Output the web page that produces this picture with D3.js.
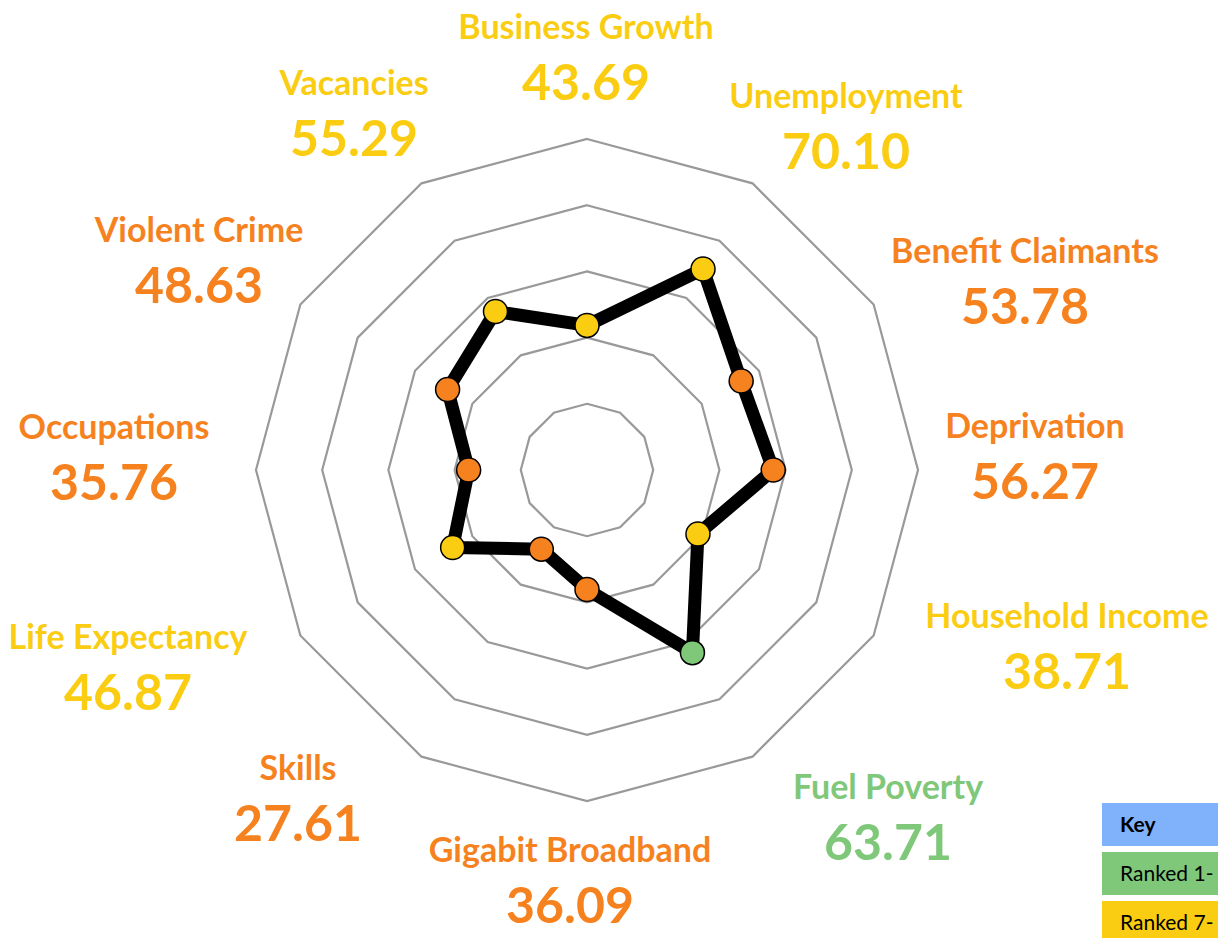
<!DOCTYPE html>
<html>
<head>
<meta charset="utf-8">
<script src="https://cdn.jsdelivr.net/npm/d3@7"></script>
<style>
  html, body { margin: 0; padding: 0; background: #fff; overflow: hidden; }
  svg { display: block; font-family: Lato, 'Open Sans', sans-serif; }
</style>
</head>
<body>
<div id="chart"></div>
<script>
// indicators, clockwise from the top
const categories = ['Business Growth', 'Unemployment', 'Benefit Claimants', 'Deprivation',
  'Household Income', 'Fuel Poverty', 'Gigabit Broadband', 'Skills',
  'Life Expectancy', 'Occupations', 'Violent Crime', 'Vacancies']
const values = [43.69, 70.10, 53.78, 56.27, 38.71, 63.71, 36.09, 27.61, 46.87, 35.76, 48.63, 55.29]
const bands = ['mid', 'mid', 'low', 'low', 'mid', 'top', 'low', 'low', 'mid', 'low', 'low', 'mid']
const ringValues = [20, 40, 60, 80, 100]
const keyLabels = ['Key', 'Ranked 1-', 'Ranked 7-']
const keyBands = ['key', 'top', 'mid']

const width = 1218
const height = 938
const cx = 587
const cy = 470
const radius = 331

const bandColor = d3.scaleOrdinal()
  .domain(['key', 'top', 'mid', 'low'])
  .range(['#7fb2fb', '#7fc87a', '#facd13', '#f6821f'])

const r = d3.scaleLinear().domain([0, 100]).range([0, radius])
const angle = d3.scaleLinear().domain([0, categories.length]).range([0, 2 * Math.PI])

// where the labels sit, same order as categories
const labelPos = [[586, 39], [846, 108], [1025, 263], [1035, 438], [1067, 628], [888, 799],
  [570, 862], [298, 780], [128, 649], [114, 439], [199, 242], [354, 95]]

const svg = d3.select('#chart').append('svg')
  .attr('width', width)
  .attr('height', height)

const g = svg.append('g').attr('transform', `translate(${cx},${cy})`)

const radial = d3.lineRadial()
  .angle((d, i) => angle(i))
  .radius(d => r(d))
  .curve(d3.curveLinearClosed)

// grid rings
g.selectAll('.ring')
  .data(ringValues)
  .enter()
  .append('path')
  .attr('class', 'ring')
  .attr('d', v => radial(categories.map(() => v)))
  .attr('fill', 'none')
  .attr('stroke', '#999')
  .attr('stroke-width', 2.2)

// data line
g.append('path')
  .attr('d', radial(values))
  .attr('fill', 'none')
  .attr('stroke', '#000')
  .attr('stroke-width', 13)
  .attr('stroke-linejoin', 'round')

g.selectAll('.dot')
  .data(values)
  .enter()
  .append('circle')
  .attr('class', 'dot')
  .attr('cx', (d, i) => r(d) * Math.sin(angle(i)))
  .attr('cy', (d, i) => -r(d) * Math.cos(angle(i)))
  .attr('r', 12)
  .attr('fill', (d, i) => bandColor(bands[i]))
  .attr('stroke', '#000')
  .attr('stroke-width', 1.5)

// labels
const labels = svg.selectAll('.label')
  .data(categories)
  .enter()
  .append('g')
  .attr('class', 'label')
  .attr('transform', (d, i) => `translate(${labelPos[i][0]},${labelPos[i][1]})`)
  .attr('fill', (d, i) => bandColor(bands[i]))
  .attr('text-anchor', 'middle')
  .style('font-weight', 'bold')

labels.append('text')
  .attr('y', 0)
  .style('font-size', '34px')
  .text(d => d)

labels.append('text')
  .attr('y', 61)
  .style('font-size', '50px')
  .text((d, i) => values[i].toFixed(2))

// key, clipped by the right edge
const key = svg.selectAll('.key')
  .data(keyLabels)
  .enter()
  .append('g')
  .attr('class', 'key')
  .attr('transform', (d, i) => `translate(1102,${803 + i * 49})`)

key.append('rect')
  .attr('width', 140)
  .attr('height', 43)
  .attr('fill', (d, i) => bandColor(keyBands[i]))

key.append('text')
  .attr('x', 18)
  .attr('y', 29)
  .style('font-size', '21px')
  .style('font-weight', (d, i) => i === 0 ? 'bold' : 'normal')
  .attr('fill', '#000')
  .text(d => d)
</script>
</body>
</html>
